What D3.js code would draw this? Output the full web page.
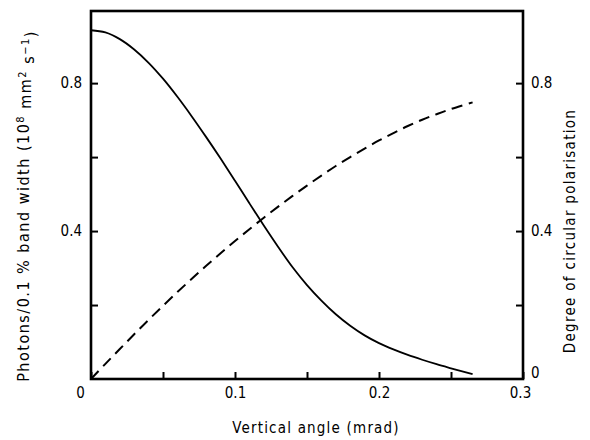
<!DOCTYPE html>
<html>
<head>
<meta charset="utf-8">
<script src="https://cdn.jsdelivr.net/npm/d3@7"></script>
<style>
  body { margin: 0; background: #fff; }
  svg text { font-family: "DejaVu Sans Condensed", "DejaVu Sans", sans-serif; fill: #000; }
</style>
</head>
<body>
<svg id="chart"></svg>
<script>
// vertical angle in mrad
const angle = [0, 0.01, 0.02, 0.03, 0.04, 0.05, 0.06, 0.07, 0.08, 0.09, 0.10, 0.11, 0.12, 0.13,
  0.14, 0.15, 0.16, 0.17, 0.18, 0.19, 0.20, 0.21, 0.22, 0.23, 0.24, 0.25, 0.265];
// photons / 0.1% bandwidth (solid)
const photons = [0.943, 0.937, 0.919, 0.891, 0.855, 0.812, 0.763, 0.710, 0.654, 0.596, 0.536, 0.475,
  0.415, 0.357, 0.302, 0.254, 0.212, 0.175, 0.144, 0.118, 0.097, 0.080, 0.065, 0.052, 0.040, 0.029, 0.013];
// degree of circular polarisation (dashed)
const polar = [0, 0.041, 0.081, 0.121, 0.160, 0.198, 0.235, 0.271, 0.306, 0.340, 0.373, 0.405, 0.436,
  0.466, 0.495, 0.523, 0.550, 0.576, 0.600, 0.623, 0.645, 0.665, 0.684, 0.701, 0.716, 0.730, 0.748];

const xTicks = [0, 0.05, 0.1, 0.15, 0.2, 0.25, 0.3];
const xLabels = ["0", "", "0.1", "", "0.2", "", "0.3"];
const yTicks = [0.2, 0.4, 0.6, 0.8];
const yLabels = ["", "0.4", "", "0.8"];

const W = 590, H = 440;
const pLeft = 91, pRight = 523, pTop = 11, pBottom = 379;

const svg = d3.select("#chart").attr("width", W).attr("height", H);

const x = d3.scaleLinear().domain([0, 0.3]).range([pLeft, pRight]);
const y = d3.scaleLinear().domain([0, 0.995]).range([pBottom, pTop]);

// axes, ticks pointing inward
const gx = svg.append("g")
  .attr("transform", `translate(0,${pBottom})`)
  .call(d3.axisBottom(x).tickValues(xTicks).tickSize(-7).tickSizeOuter(0).tickPadding(8)
    .tickFormat((d, i) => xLabels[i]));
gx.selectAll("text").attr("font-size", 15);
gx.selectAll("text").filter((d) => d === 0).attr("dx", -11);
gx.selectAll("text").filter((d) => d === 0.3).attr("dx", -3);

const gyl = svg.append("g")
  .attr("transform", `translate(${pLeft},0)`)
  .call(d3.axisLeft(y).tickValues(yTicks).tickSize(-7).tickSizeOuter(0).tickPadding(9)
    .tickFormat((d, i) => yLabels[i]));
gyl.selectAll("text").attr("font-size", 15);

const gyr = svg.append("g")
  .attr("transform", `translate(${pRight},0)`)
  .call(d3.axisRight(y).tickValues([0].concat(yTicks)).tickSize(-7).tickSizeOuter(0).tickPadding(8)
    .tickFormat((d, i) => ["0"].concat(yLabels)[i]));
gyr.selectAll("text").attr("font-size", 15);
gyr.selectAll("text").filter((d) => d === 0).attr("dy", "-0.12em");
gyr.selectAll(".tick").filter((d) => d === 0).select("line").remove();

svg.selectAll(".domain").remove();
svg.selectAll(".tick line").attr("stroke", "#000").attr("stroke-width", 2);

// frame
svg.append("rect")
  .attr("x", pLeft).attr("y", pTop)
  .attr("width", pRight - pLeft).attr("height", pBottom - pTop)
  .attr("fill", "none").attr("stroke", "#000").attr("stroke-width", 2.6);

const line = (vals) => d3.line()
  .x((d, i) => x(angle[i]))
  .y((d) => y(d))
  .curve(d3.curveCatmullRom)(vals);

svg.append("path")
  .attr("d", line(photons))
  .attr("fill", "none").attr("stroke", "#000").attr("stroke-width", 1.8);

svg.append("path")
  .attr("d", line(polar))
  .attr("fill", "none").attr("stroke", "#000").attr("stroke-width", 2)
  .attr("stroke-dasharray", "11,6.5");

// axis titles
svg.append("text")
  .attr("x", (pLeft + pRight) / 2 + 9).attr("y", 433)
  .attr("text-anchor", "middle").attr("font-size", 15).attr("letter-spacing", 1.2)
  .text("Vertical angle (mrad)");

const lt = svg.append("text")
  .attr("transform", "translate(29,206) rotate(-90)")
  .attr("text-anchor", "middle").attr("font-size", 16).attr("letter-spacing", 1.5);
lt.append("tspan").text("Photons/0.1 % band width (10");
lt.append("tspan").attr("dy", "-0.45em").attr("font-size", 11).text("8");
lt.append("tspan").attr("dy", "0.45em").text(" mm");
lt.append("tspan").attr("dy", "-0.45em").attr("font-size", 11).text("2");
lt.append("tspan").attr("dy", "0.45em").text(" s");
lt.append("tspan").attr("dy", "-0.45em").attr("font-size", 11).text("\u22121");
lt.append("tspan").attr("dy", "0.45em").text(")");

svg.append("text")
  .attr("transform", "translate(575,231) rotate(-90)")
  .attr("text-anchor", "middle").attr("font-size", 15).attr("letter-spacing", 1.3)
  .text("Degree of circular polarisation");
</script>
</body>
</html>
